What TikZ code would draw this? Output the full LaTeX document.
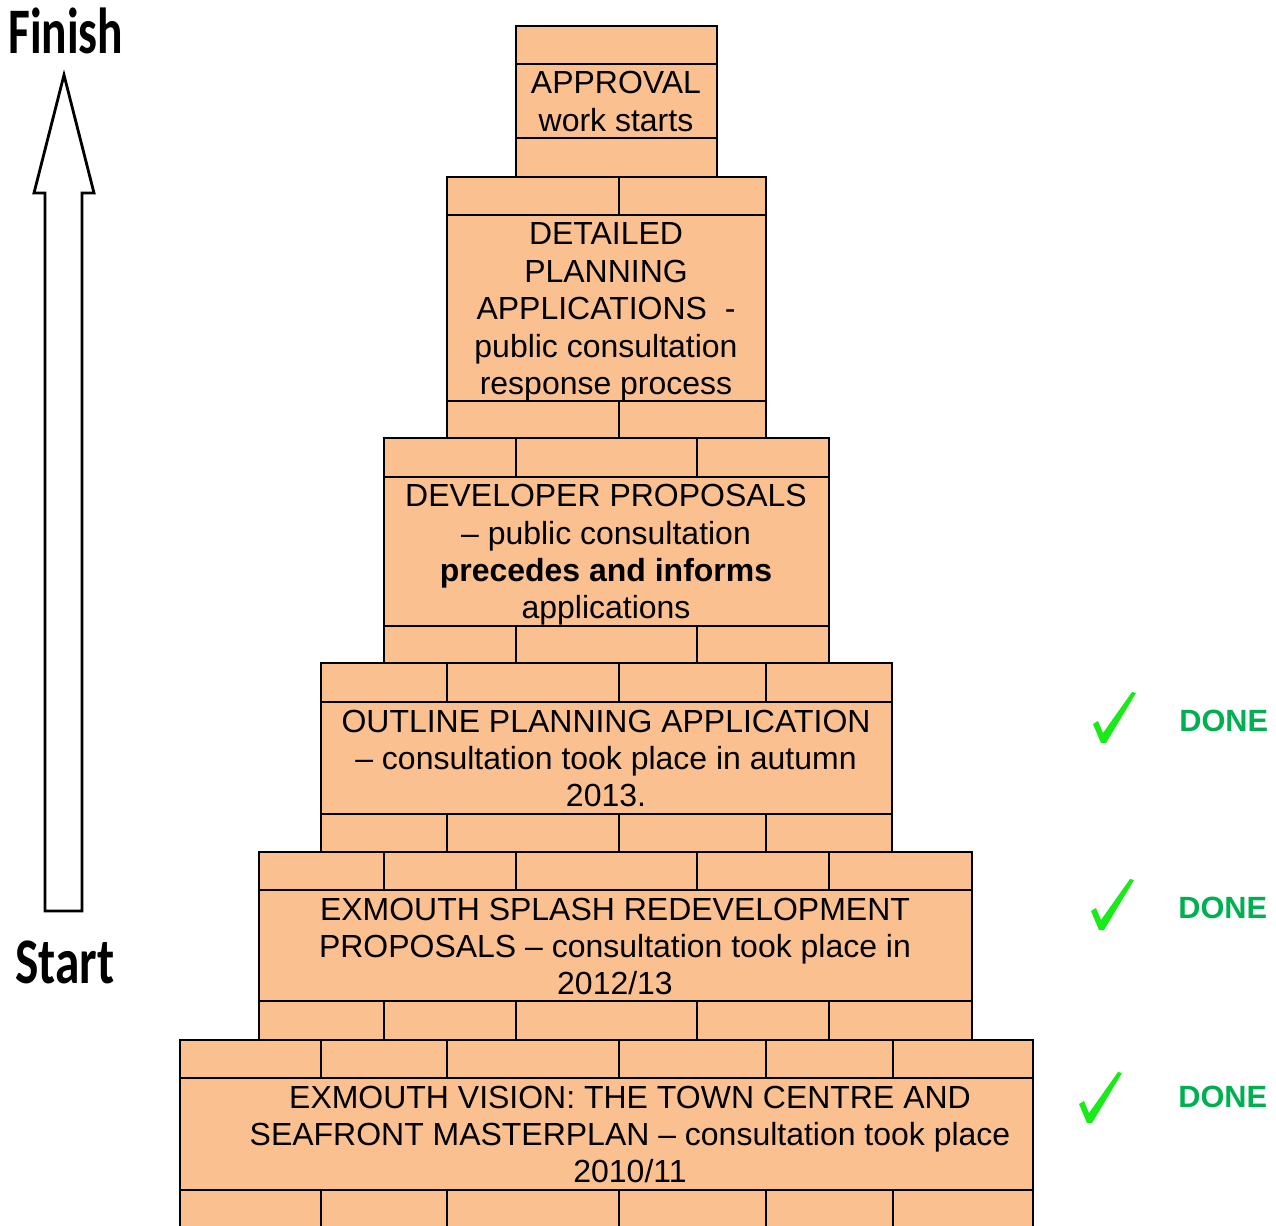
\documentclass[tikz,border=0pt]{standalone}
\usepackage{fontspec}
\setmainfont{Liberation Sans}
\newfontfamily\labelfont{Carlito}
\definecolor{brick}{RGB}{250,192,144}
\definecolor{donegreen}{RGB}{0,176,80}
\definecolor{tickgreen}{RGB}{25,235,25}
\newcommand\pyrlayer[7]{%
  \draw[brk] (#1,#3) rectangle (#2,#6);
  \draw[brkline] (#1,#4) -- (#2,#4) (#1,#5) -- (#2,#5);
  \foreach \d in {#7} {\draw[brkline] (\d,#3) -- (\d,#4) (\d,#5) -- (\d,#6);}
}
\begin{document}
\begin{tikzpicture}[x=0.02cm,y=-0.02cm,
  brk/.style={draw=black, fill=brick, line width=1.4pt},
  brkline/.style={draw=black, line width=1.4pt},
  txt/.style={font=\fontsize{18.2}{21.3}\selectfont, align=center, inner sep=0pt},
  side/.style={font=\labelfont\bfseries\fontsize{37}{40}\selectfont, anchor=west, inner sep=0pt},
  donelbl/.style={font=\bfseries\fontsize{17.5}{20}\selectfont, text=donegreen, anchor=west, inner sep=0pt},
  checkmark/.pic={\fill[tickgreen] (-9,-18) -- (-4,-21) -- (1,-9) -- (30,-50) -- (34,-49) -- (4,1) -- (-1,1) -- cycle;}
]
\useasboundingbox (0,0) rectangle (1276,1226);
\clip (0,0) rectangle (1276,1226);

% layer 1
\draw[brk] (516,26) rectangle (717,177);
\draw[brkline] (516,64) -- (717,64) (516,138) -- (717,138);
% layer 2
\pyrlayer{447}{766}{177}{215}{401}{438}{619}
% layer 3
\pyrlayer{384}{829}{438}{477}{626}{663}{516,697}
% layer 4
\pyrlayer{321}{892}{663}{702}{814}{852}{447,619,766}
% layer 5
\pyrlayer{259}{972}{852}{890}{1001}{1040}{384,516,697,829}
% layer 6
\pyrlayer{180}{1033}{1040}{1078}{1190}{1260}{321,447,619,766,893}

\node[txt] (approval) at (616,101.5) {APPROVAL\\work starts};
\node[txt] (detailed) at (606,312) {DETAILED\\PLANNING\\APPLICATIONS~~-\\public consultation\\response process};
\node[txt] (developer) at (606,555) {DEVELOPER PROPOSALS\\– public consultation\\\textbf{precedes and informs}\\applications};
\node[txt] (outline) at (606,758.5) {OUTLINE PLANNING APPLICATION\\– consultation took place in autumn\\2013.};
\node[txt] (splash) at (615,946.5) {EXMOUTH SPLASH REDEVELOPMENT\\PROPOSALS – consultation took place in\\2012/13};
\node[txt] (vision) at (630,1134.5) {EXMOUTH VISION: THE TOWN CENTRE AND\\SEAFRONT MASTERPLAN – consultation took place\\2010/11};

% progress arrow
\coordinate (tip) at (64,75);
\coordinate (base) at (64,911);
\draw[line width=1.6pt, line join=miter] (tip) -- (94,193) -- (82,193) -- (82,911) -- (45,911) -- (45,193) -- (34,193) -- cycle;
\node[side] (finish) at (8,31) {\scalebox{0.73}[1]{Finish}};
\node[side] (start) at (15,962) {\scalebox{0.76}[1]{Start}};

% done marks
\pic at (1102,742) {checkmark};
\pic at (1100,929) {checkmark};
\pic at (1088,1122) {checkmark};
\node[donelbl] (done4) at (1179,721) {DONE};
\node[donelbl] (done5) at (1178,908) {DONE};
\node[donelbl] (done6) at (1178,1097) {DONE};
\end{tikzpicture}
\end{document}
